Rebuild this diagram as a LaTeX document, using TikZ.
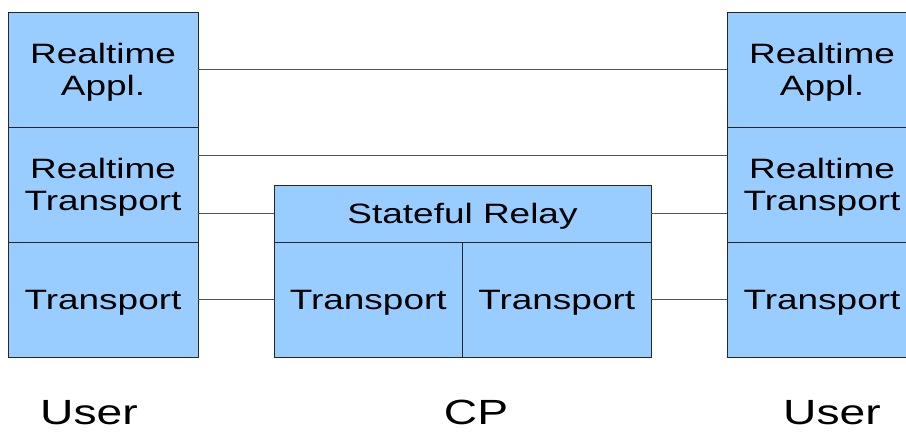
\documentclass[tikz,border=0pt]{standalone}
\usepackage{fontspec}
\setmainfont{Liberation Sans}[FakeStretch=1.32]
\definecolor{boxblue}{HTML}{99CCFF}
\definecolor{linegray}{HTML}{555555}
\begin{document}
\begin{tikzpicture}[x=1pt,y=-1pt,
  boxbase/.style={draw=black!85, line width=0.9pt, fill=boxblue, rectangle, inner sep=0pt},
  layer/.style={boxbase, minimum width=190pt, minimum height=115pt},
  relay/.style={boxbase, minimum width=377pt, minimum height=57pt},
  half/.style={boxbase, minimum width=188.5pt, minimum height=115pt},
  txt/.style={inner sep=0pt, align=center, yshift=-3pt,
    font=\fontsize{28}{32}\selectfont},
  conn/.style={draw=linegray, line width=0.9pt},
  caption/.style={anchor=base, inner sep=0pt, font=\fontsize{35}{40}\selectfont}]
\useasboundingbox (0,0) rectangle (906,432);
\clip (0,0) rectangle (906,432);
% left stack
\node[layer, label={[txt]center:{Realtime\\Appl.}}] (L1) at (103,69.5) {};
\node[layer, label={[txt]center:{Realtime\\Transport}}] (L2) at (103,184.5) {};
\node[layer, label={[txt]center:{Transport}}] (L3) at (103,299.5) {};
% right stack
\node[layer, label={[txt]center:{Realtime\\Appl.}}] (R1) at (822,69.5) {};
\node[layer, label={[txt]center:{Realtime\\Transport}}] (R2) at (822,184.5) {};
\node[layer, label={[txt]center:{Transport}}] (R3) at (822,299.5) {};
% middle
\node[relay, label={[txt]center:{Stateful Relay}}] (SR) at (462.5,213.5) {};
\node[half, label={[txt]center:{Transport}}] (T1) at (368.25,299.5) {};
\node[half, label={[txt]center:{Transport}}] (T2) at (556.75,299.5) {};
% connectors
\draw[conn] (L1.east) -- (R1.west);
\draw[conn] ([yshift=-29pt]L2.north east) -- ([yshift=-29pt]R2.north west);
\draw[conn] (L2.east |- SR.west) -- (SR.west);
\draw[conn] (SR.east) -- (R2.west |- SR.east);
\draw[conn] (L3.east) -- (T1.west);
\draw[conn] (T2.east) -- (R3.west);
% captions
\node[caption] (U1) at (89,424) {User};
\node[caption] (CP) at (476,424) {CP};
\node[caption] (U2) at (832,424) {User};
\end{tikzpicture}
\end{document}
